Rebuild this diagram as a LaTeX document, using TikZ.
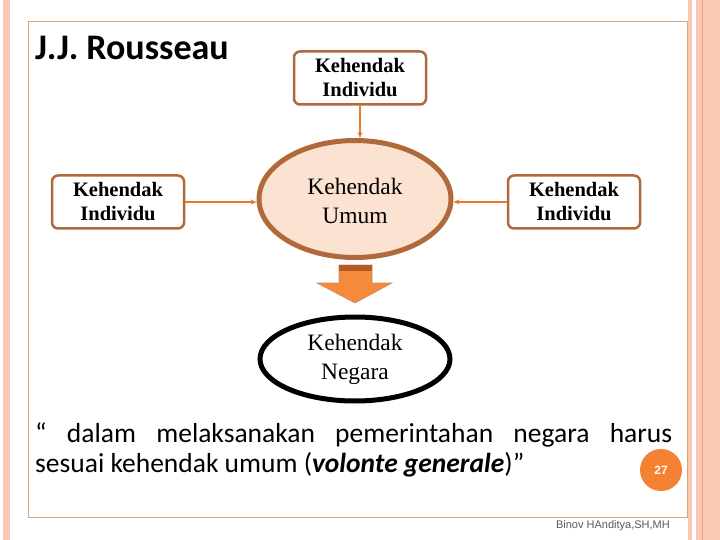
\documentclass[tikz,border=0pt]{standalone}
\usepackage{fontspec}
\setmainfont{Liberation Serif}
\newfontfamily\cali{Carlito}
\newfontfamily\arialf{Liberation Sans}
\usetikzlibrary{shapes.geometric,arrows.meta}
\definecolor{stripe}{HTML}{F9C9B6}
\definecolor{stripeline}{HTML}{EE9F7E}
\definecolor{framec}{HTML}{D6A67E}
\definecolor{boxbrown}{HTML}{B0693A}
\definecolor{peach}{HTML}{FCE2D0}
\definecolor{arrorange}{HTML}{E8782A}
\definecolor{blockor}{HTML}{F58A3A}
\definecolor{blockdark}{HTML}{B55A22}
\definecolor{badge}{HTML}{F58232}
\newcommand{\twolines}[3]{\raisebox{#3}[\height][\depth]{\begin{tabular}{@{}c@{}}#1\\#2\end{tabular}}}
\tikzset{
  kbox/.style={draw=boxbrown, line width=2.5pt, rounded corners=6pt, fill=white,
    minimum width=132pt, minimum height=53pt, align=center, inner sep=0pt,
    font=\fontsize{20.5}{24}\selectfont\bfseries},
  kell/.style={ellipse, line width=5pt, inner sep=0pt, align=center,
    font=\fontsize{23.5}{29}\selectfont},
  link/.style={draw=arrorange, line width=1.5pt, -{Stealth[length=6pt,width=5pt]}}
}
\begin{document}
\begin{tikzpicture}[x=1pt,y=-1pt]
\useasboundingbox (0,0) rectangle (720,540);
\fill[white] (0,0) rectangle (720,540);
% side stripes
\fill[stripe] (3,0) rectangle (10,540);
\fill[stripe] (688,0) rectangle (692,540);
\fill[stripe] (696,0) rectangle (720,540);
\draw[stripeline, line width=1pt] (702,0) -- (702,540);
% frame
\draw[framec, line width=1pt] (28,22) rectangle (687,517);
% title
\node[anchor=base west, inner sep=0pt, font=\cali\fontsize{36}{42}\selectfont\bfseries] (title) at (35,60) {J.J. Rousseau};
% nodes
\node[kbox] (top) at (360,78) {Kehendak\\Individu};
\node[kbox] (left) at (118,202) {Kehendak\\Individu};
\node[kbox] (right) at (574,202) {Kehendak\\Individu};
\node[kell, draw=boxbrown, fill=peach, minimum width=192pt, minimum height=117pt] (umum) at (355,199) {\twolines{Kehendak}{Umum}{-4pt}};
\node[kell, draw=black, fill=white, minimum width=190pt, minimum height=84pt] (negara) at (355,359) {\twolines{Kehendak}{Negara}{0pt}};
% connectors
\draw[link] (top.south) -- (top.south |- umum.north);
\draw[link] (left.east) -- (umum.west |- left.east);
\draw[link] (right.west) -- (umum.east |- right.east);
% block arrow
\fill[blockor, draw=blockdark!70, line width=0.6pt]
  (339,265) -- (372,265) -- (372,283) -- (392,283) -- (355,303) -- (317,283) -- (339,283) -- cycle;
\fill[blockdark] (339,265) rectangle (372,271);
% quote
\node[anchor=base west, inner sep=0pt, font=\cali\fontsize{27.5}{33}\selectfont] (q1) at (35,442)
  {\makebox[637pt][s]{“ dalam melaksanakan pemerintahan negara harus}};
\node[anchor=base west, inner sep=0pt, font=\cali\fontsize{27.5}{33}\selectfont] (q2) at (35,472)
  {sesuai kehendak umum (\textbf{\textit{volonte generale}})”};
% badge
\node[circle, fill=badge, minimum size=42pt, inner sep=0pt, text=white!95!yellow,
  font=\arialf\fontsize{12}{14}\selectfont\bfseries] (badge) at (661,470) {27};
% author
\node[anchor=base east, inner sep=0pt, text=black!65, font=\arialf\fontsize{11}{13}\selectfont] (author) at (670,528) {Binov HAnditya,SH,MH};
\end{tikzpicture}
\end{document}
